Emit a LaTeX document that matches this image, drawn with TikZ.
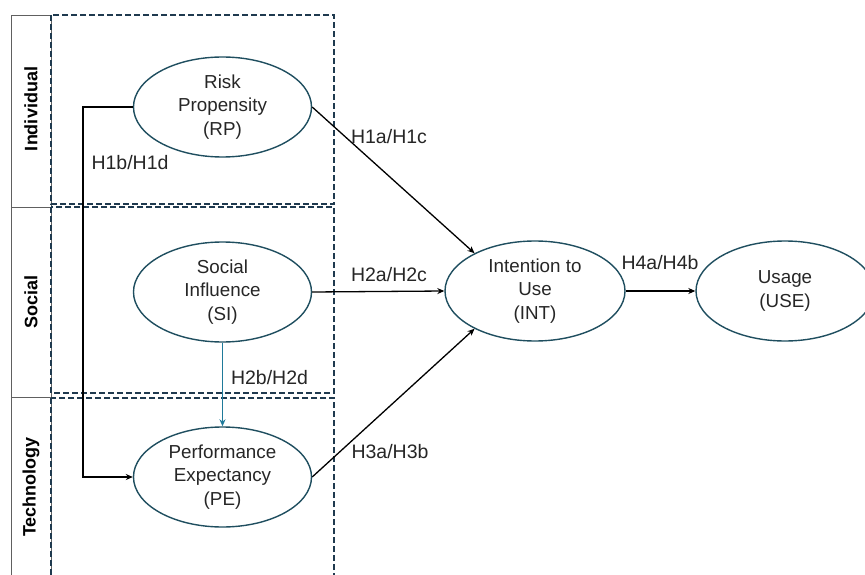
\documentclass[tikz,border=0pt]{standalone}
\usepackage{fontspec}
\setmainfont{Liberation Sans}
\usetikzlibrary{arrows.meta,shapes.geometric}
\definecolor{edge}{HTML}{1F4E5F}
\definecolor{dashc}{HTML}{1F3A4F}
\definecolor{tealc}{HTML}{1F7A9A}
\definecolor{greyc}{HTML}{606060}
\begin{document}
\begin{tikzpicture}[x=1pt,y=-1pt,
  construct/.style={draw=edge,line width=1.4pt,ellipse,minimum width=178pt,minimum height=100pt,
    inner sep=0pt,align=center,font=\fontsize{18.8}{23.5}\selectfont,text=black!85},
  layer/.style={draw=dashc,line width=1.3pt,dash pattern=on 6pt off 3pt},
  tag/.style={draw=greyc,line width=0.9pt},
  tagtext/.style={rotate=90,font=\fontsize{18}{20}\selectfont\bfseries},
  hyp/.style={font=\fontsize{19.5}{22}\selectfont,text=black!85},
  link/.style={line width=1.3pt,-{Stealth[length=7pt,width=6pt]}}]
\useasboundingbox (0,0) rectangle (865,575);
% layer tags on the left
\draw[tag] (11,15) rectangle (51,207);
\draw[tag] (11,207) rectangle (51,397);
\draw[tag] (11,397) rectangle (51,580);
\node[tagtext] (tind) at (31,109) {Individual};
\node[tagtext] (tsoc) at (31,302) {Social};
\node[tagtext] (ttec) at (31,487) {Technology};
% dashed layer frames
\draw[layer] (51,15) rectangle (334,204);
\draw[layer] (51,207) rectangle (334,393);
\draw[layer] (51,398) rectangle (334,590);
% constructs
\node[construct] (rp) at (222.5,107) {Risk\\Propensity\\(RP)};
\node[construct] (si) at (222.5,292) {Social\\Influence\\(SI)};
\node[construct] (pe) at (222.5,477) {Performance\\Expectancy\\(PE)};
\node[construct,minimum width=180pt] (int) at (535,291) {Intention to\\Use\\(INT)};
\node[construct] (use) at (785,291) {Usage\\(USE)};
% paths
\coordinate (bend1) at (83,107);
\coordinate (bend2) at (83,477);
\draw[link] (rp.west) -- (bend1) -- (bend2) -- (pe.west);
\draw[link] (rp.east) -- (int.148);
\draw[link] (si.east) -- (int.west);
\draw[link] (pe.east) -- (int.212);
\draw[link] (int.east) -- (use.west);
\draw[link,draw=tealc,fill=tealc] (si.south) -- (pe.north);
% hypothesis labels
\node[hyp] (h1bd) at (130,163) {H1b/H1d};
\node[hyp] (h1ac) at (389,137) {H1a/H1c};
\node[hyp] (h2ac) at (389,275) {H2a/H2c};
\node[hyp] (h2bd) at (269.5,378) {H2b/H2d};
\node[hyp] (h3ab) at (390,452) {H3a/H3b};
\node[hyp] (h4ab) at (660,263) {H4a/H4b};
\end{tikzpicture}
\end{document}
